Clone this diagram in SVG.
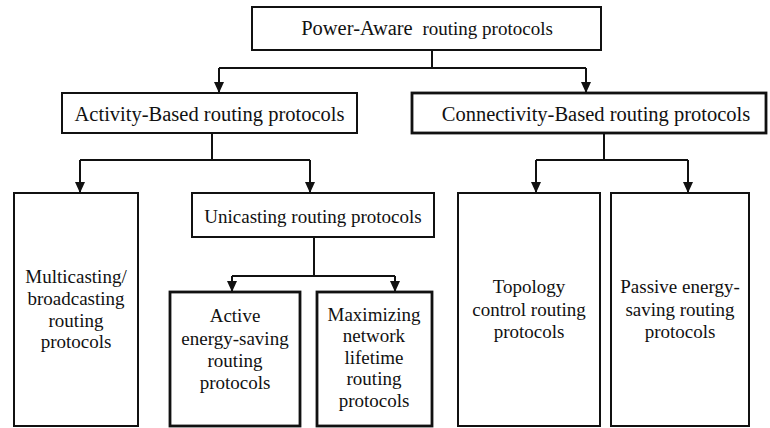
<svg xmlns="http://www.w3.org/2000/svg" width="770" height="428" viewBox="0 0 770 428">
<style>
text{font-family:"Liberation Serif","Times New Roman",serif;fill:#111;text-anchor:middle}
.t1{font-size:20.5px}
.t2{font-size:19px}
.box{fill:#fff;stroke:#111;stroke-width:2}
.thick{stroke-width:2.8}
.c{fill:none;stroke:#111;stroke-width:2}
</style>
<g id="connectors">
<path class="c" d="M432 50 V68 M219 68 H586"/>
<path class="c" d="M219 68 V92"/>
<path class="c" d="M586 68 V92"/>
<path class="c" d="M212 133 V160 M80 160 H310"/>
<path class="c" d="M80 160 V192"/>
<path class="c" d="M310 160 V192"/>
<path class="c" d="M604 133 V160 M536 160 H688"/>
<path class="c" d="M536 160 V192"/>
<path class="c" d="M688 160 V192"/>
<path class="c" d="M314 237 V276 M232 276 H395"/>
<path class="c" d="M232 276 V291"/>
<path class="c" d="M395 276 V291"/>
<g fill="#111">
<path d="M214 82 L224 82 L219 93 Z"/>
<path d="M581 82 L591 82 L586 93 Z"/>
<path d="M75 182 L85 182 L80 193 Z"/>
<path d="M305 182 L315 182 L310 193 Z"/>
<path d="M531 182 L541 182 L536 193 Z"/>
<path d="M683 182 L693 182 L688 193 Z"/>
<path d="M227 281 L237 281 L232 292 Z"/>
<path d="M390 281 L400 281 L395 292 Z"/>
</g>
</g>
<g id="power-aware">
<rect class="box" x="252" y="7" width="349" height="43"/>
<text x="427" y="35" class="t2"><tspan font-size="20.5">Power-Aware</tspan> <tspan dx="5">routing protocols</tspan></text>
</g>
<g id="activity-based">
<rect class="box" x="62" y="93" width="295" height="40"/>
<text x="209.5" y="121" class="t1">Activity-Based routing protocols</text>
</g>
<g id="connectivity-based">
<rect class="box thick" x="412" y="93" width="354" height="40"/>
<text x="596" y="121" class="t1">Connectivity-Based routing protocols</text>
</g>
<g id="multicasting">
<rect class="box" x="14" y="193" width="124" height="233"/>
<text class="t2" x="76" y="283">Multicasting/</text>
<text class="t2" x="76" y="305">broadcasting</text>
<text class="t2" x="76" y="327">routing</text>
<text class="t2" x="76" y="348">protocols</text>
</g>
<g id="unicasting">
<rect class="box" x="192" y="193" width="242" height="44"/>
<text class="t2" x="313" y="223">Unicasting routing protocols</text>
</g>
<g id="active-energy">
<rect class="box thick" x="170" y="292" width="130" height="134"/>
<text class="t2" x="235" y="322">Active</text>
<text class="t2" x="235" y="345">energy-saving</text>
<text class="t2" x="235" y="367">routing</text>
<text class="t2" x="235" y="389">protocols</text>
</g>
<g id="maximizing">
<rect class="box thick" x="317" y="292" width="115" height="134"/>
<text class="t2" x="374" y="321">Maximizing</text>
<text class="t2" x="374" y="342">network</text>
<text class="t2" x="374" y="364">lifetime</text>
<text class="t2" x="374" y="385">routing</text>
<text class="t2" x="374" y="407">protocols</text>
</g>
<g id="topology">
<rect class="box" x="458" y="193" width="142" height="233"/>
<text class="t2" x="529" y="293">Topology</text>
<text class="t2" x="529" y="316">control routing</text>
<text class="t2" x="529" y="338">protocols</text>
</g>
<g id="passive">
<rect class="box" x="611" y="193" width="138" height="233"/>
<text class="t2" x="680" y="293">Passive energy-</text>
<text class="t2" x="680" y="316">saving routing</text>
<text class="t2" x="680" y="338">protocols</text>
</g>
</svg>
